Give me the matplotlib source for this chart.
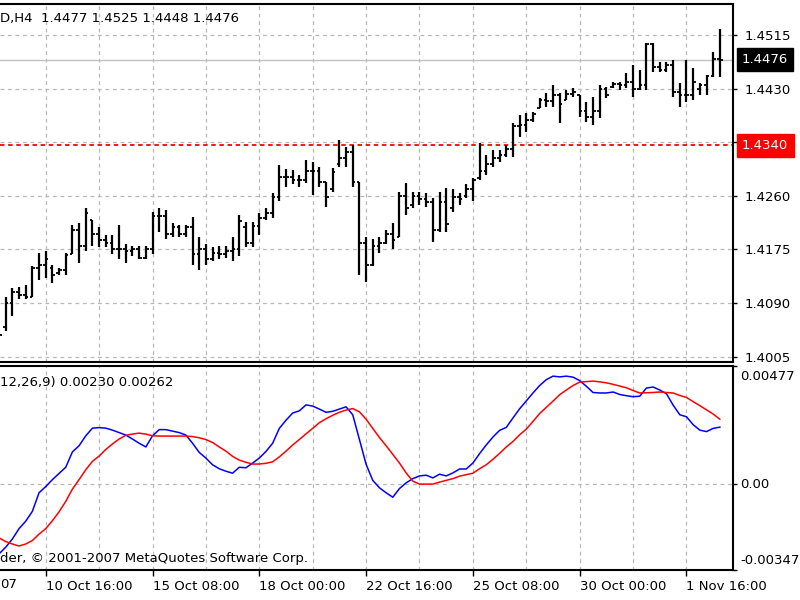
import matplotlib
matplotlib.use('Agg')
import matplotlib.pyplot as plt
from matplotlib import transforms
from matplotlib.ticker import FixedLocator

# H4 bars, index 0 = 10 Oct 16:00
bar_idx = list(range(-7, 102))

opens = [1.4050, 1.4052, 1.4090, 1.4108, 1.4102, 1.4100, 1.4145, 1.4150, 1.4145, 1.4138,
         1.4142, 1.4168, 1.4205, 1.4180, 1.4222, 1.4200, 1.4190, 1.4185, 1.4176, 1.4175,
         1.4172, 1.4176, 1.4162, 1.4176, 1.4228, 1.4228, 1.4200, 1.4210, 1.4200, 1.4210,
         1.4168, 1.4175, 1.4160, 1.4170, 1.4168, 1.4172, 1.4175, 1.4210, 1.4185, 1.4212,
         1.4225, 1.4232, 1.4258, 1.4290, 1.4290, 1.4285, 1.4285, 1.4300, 1.4300, 1.4282,
         1.4270, 1.4310, 1.4320, 1.4330, 1.4282, 1.4185, 1.4150, 1.4180, 1.4185, 1.4200,
         1.4194, 1.4260, 1.4245, 1.4260, 1.4255, 1.4250, 1.4205, 1.4250, 1.4240, 1.4258,
         1.4260, 1.4270, 1.4288, 1.4300, 1.4310, 1.4320, 1.4325, 1.4335, 1.4370, 1.4372,
         1.4380, 1.4400, 1.4412, 1.4410, 1.4420, 1.4412, 1.4422, 1.4420, 1.4395, 1.4385,
         1.4395, 1.4430, 1.4432, 1.4438, 1.4435, 1.4440, 1.4430, 1.4435, 1.4500, 1.4465,
         1.4460, 1.4468, 1.4425, 1.4420, 1.4420, 1.4430, 1.4435, 1.4450, 1.4477]
highs = [1.4056, 1.4100, 1.4114, 1.4116, 1.4119, 1.4148, 1.4170, 1.4172, 1.4151, 1.4146,
         1.4170, 1.4214, 1.4217, 1.4240, 1.4222, 1.4211, 1.4198, 1.4198, 1.4214, 1.4183,
         1.4181, 1.4180, 1.4181, 1.4235, 1.4241, 1.4238, 1.4217, 1.4214, 1.4214, 1.4227,
         1.4195, 1.4183, 1.4178, 1.4180, 1.4180, 1.4194, 1.4230, 1.4219, 1.4219, 1.4233,
         1.4241, 1.4265, 1.4309, 1.4303, 1.4301, 1.4293, 1.4317, 1.4314, 1.4306, 1.4282,
         1.4304, 1.4349, 1.4338, 1.4341, 1.4282, 1.4194, 1.4191, 1.4194, 1.4206, 1.4217,
         1.4266, 1.4281, 1.4266, 1.4266, 1.4265, 1.4257, 1.4266, 1.4273, 1.4270, 1.4265,
         1.4278, 1.4289, 1.4344, 1.4325, 1.4333, 1.4333, 1.4341, 1.4376, 1.4388, 1.4392,
         1.4393, 1.4415, 1.4423, 1.4436, 1.4423, 1.4428, 1.4431, 1.4420, 1.4409, 1.4417,
         1.4436, 1.4433, 1.4441, 1.4441, 1.4455, 1.4468, 1.4460, 1.4502, 1.4502, 1.4472,
         1.4472, 1.4475, 1.4439, 1.4475, 1.4463, 1.4439, 1.4452, 1.4488, 1.4525]
lows = [1.4024, 1.4045, 1.4069, 1.4096, 1.4096, 1.4099, 1.4127, 1.4130, 1.4122, 1.4135,
        1.4135, 1.4167, 1.4154, 1.4172, 1.4180, 1.4178, 1.4178, 1.4167, 1.4159, 1.4154,
        1.4165, 1.4159, 1.4159, 1.4167, 1.4203, 1.4191, 1.4194, 1.4194, 1.4194, 1.4151,
        1.4143, 1.4151, 1.4156, 1.4159, 1.4162, 1.4156, 1.4164, 1.4178, 1.4178, 1.4198,
        1.4222, 1.4225, 1.4251, 1.4274, 1.4278, 1.4274, 1.4281, 1.4262, 1.4274, 1.4243,
        1.4266, 1.4306, 1.4306, 1.4274, 1.4135, 1.4124, 1.4148, 1.4170, 1.4183, 1.4175,
        1.4194, 1.4230, 1.4241, 1.4246, 1.4243, 1.4186, 1.4203, 1.4202, 1.4235, 1.4246,
        1.4257, 1.4251, 1.4285, 1.4293, 1.4306, 1.4314, 1.4322, 1.4322, 1.4354, 1.4361,
        1.4377, 1.4399, 1.4401, 1.4401, 1.4376, 1.4412, 1.4417, 1.4385, 1.4377, 1.4372,
        1.4384, 1.4415, 1.4431, 1.4428, 1.4431, 1.4417, 1.4428, 1.4428, 1.4456, 1.4456,
        1.4456, 1.4417, 1.4401, 1.4409, 1.4412, 1.4420, 1.4420, 1.4449, 1.4448]
closes = [1.4040, 1.4090, 1.4108, 1.4102, 1.4100, 1.4145, 1.4150, 1.4160, 1.4135, 1.4142,
          1.4166, 1.4205, 1.4180, 1.4232, 1.4200, 1.4190, 1.4185, 1.4176, 1.4175, 1.4172,
          1.4176, 1.4162, 1.4176, 1.4228, 1.4228, 1.4200, 1.4210, 1.4200, 1.4210, 1.4168,
          1.4175, 1.4160, 1.4170, 1.4168, 1.4172, 1.4175, 1.4220, 1.4185, 1.4212, 1.4225,
          1.4232, 1.4258, 1.4290, 1.4290, 1.4285, 1.4285, 1.4300, 1.4300, 1.4282, 1.4258,
          1.4298, 1.4320, 1.4330, 1.4282, 1.4185, 1.4150, 1.4180, 1.4185, 1.4200, 1.4190,
          1.4260, 1.4240, 1.4260, 1.4255, 1.4250, 1.4205, 1.4250, 1.4215, 1.4258, 1.4255,
          1.4270, 1.4285, 1.4300, 1.4310, 1.4320, 1.4325, 1.4335, 1.4370, 1.4372, 1.4380,
          1.4390, 1.4412, 1.4410, 1.4420, 1.4405, 1.4422, 1.4425, 1.4395, 1.4385, 1.4395,
          1.4430, 1.4420, 1.4438, 1.4435, 1.4440, 1.4430, 1.4435, 1.4500, 1.4465, 1.4460,
          1.4468, 1.4425, 1.4420, 1.4420, 1.4440, 1.4435, 1.4450, 1.4477, 1.4476]

macd = [-0.00282, -0.00255, -0.00222, -0.00180, -0.00150, -0.00110, -0.00035, -0.00010, 0.00018, 0.00043,
        0.00068, 0.00130, 0.00155, 0.00195, 0.00226, 0.00228, 0.00226, 0.00218, 0.00208, 0.00198,
        0.00182, 0.00165, 0.00150, 0.00195, 0.00220, 0.00220, 0.00214, 0.00208, 0.00198, 0.00165,
        0.00128, 0.00105, 0.00078, 0.00062, 0.00052, 0.00044, 0.00068, 0.00066, 0.00085, 0.00105,
        0.00132, 0.00165, 0.00225, 0.00258, 0.00287, 0.00296, 0.00320, 0.00315, 0.00303, 0.00290,
        0.00294, 0.00303, 0.00312, 0.00280, 0.00180, 0.00080, 0.00015, -0.00015, -0.00035, -0.00053,
        -0.00018, 0.00005, 0.00022, 0.00033, 0.00036, 0.00025, 0.00040, 0.00033, 0.00045, 0.00061,
        0.00061, 0.00085, 0.00123, 0.00158, 0.00190, 0.00217, 0.00229, 0.00267, 0.00304, 0.00336,
        0.00368, 0.00398, 0.00422, 0.00436, 0.00433, 0.00436, 0.00432, 0.00418, 0.00395, 0.00370,
        0.00368, 0.00368, 0.00372, 0.00362, 0.00357, 0.00353, 0.00355, 0.00388, 0.00392, 0.00380,
        0.00365, 0.00319, 0.00280, 0.00272, 0.00240, 0.00218, 0.00212, 0.00225, 0.00230]
signal = [-0.00217, -0.00232, -0.00242, -0.00250, -0.00242, -0.00228, -0.00202, -0.00180, -0.00148, -0.00112,
          -0.00070, -0.00020, 0.00018, 0.00058, 0.00092, 0.00113, 0.00140, 0.00162, 0.00182, 0.00197,
          0.00202, 0.00206, 0.00202, 0.00195, 0.00194, 0.00194, 0.00194, 0.00194, 0.00194, 0.00192,
          0.00187, 0.00180, 0.00168, 0.00150, 0.00133, 0.00112, 0.00097, 0.00088, 0.00081, 0.00081,
          0.00084, 0.00090, 0.00110, 0.00133, 0.00158, 0.00180, 0.00203, 0.00225, 0.00248, 0.00264,
          0.00278, 0.00290, 0.00299, 0.00305, 0.00292, 0.00262, 0.00225, 0.00188, 0.00155, 0.00120,
          0.00085, 0.00045, 0.00012, 0.00000, 0.00000, 0.00000, 0.00008, 0.00015, 0.00022, 0.00032,
          0.00038, 0.00044, 0.00062, 0.00078, 0.00100, 0.00124, 0.00150, 0.00172, 0.00199, 0.00222,
          0.00253, 0.00285, 0.00310, 0.00335, 0.00361, 0.00380, 0.00398, 0.00412, 0.00414, 0.00416,
          0.00413, 0.00409, 0.00403, 0.00396, 0.00389, 0.00378, 0.00368, 0.00369, 0.00370, 0.00372,
          0.00370, 0.00368, 0.00358, 0.00350, 0.00333, 0.00317, 0.00300, 0.00283, 0.00262]

time_ticks = [0, 16, 32, 48, 64, 80, 96]
time_labels = ['10 Oct 16:00', '15 Oct 08:00', '18 Oct 00:00', '22 Oct 16:00',
               '25 Oct 08:00', '30 Oct 00:00', '1 Nov 16:00']
grid_ticks = [8, 24, 40, 56, 72, 88]
price_ticks = [1.4005, 1.4090, 1.4175, 1.4260, 1.4345, 1.4430, 1.4515]
price_labels = ['1.4005', '1.4090', '1.4175', '1.4260', '', '1.4430', '1.4515']
bid = 1.4476
alert_level = 1.4340
macd_top, macd_bottom = 0.00477, -0.00347

FS = 9.5
GRID = dict(color='#b8b8b8', linestyle=(0, (3, 3)), linewidth=0.9)

fig = plt.figure(figsize=(8, 6), dpi=100)
ax = fig.add_axes([0, 0.39667, 0.91625, 0.59667])
ax2 = fig.add_axes([0, 0.05, 0.91625, 0.34])

xmin, xmax = -6.85, 102.97

# price bars
ax.vlines(bar_idx, lows, highs, color='black', linewidth=1.6, zorder=3)
ax.hlines(opens, [i - 0.4 for i in bar_idx], bar_idx, color='black', linewidth=1.3, zorder=3)
ax.hlines(closes, bar_idx, [i + 0.4 for i in bar_idx], color='black', linewidth=1.3, zorder=3)

ax.axhline(bid, color='#c0c0c0', linewidth=1.0, zorder=1)
ax.axhline(alert_level, color='#ff0000', linestyle=(0, (2.5, 2)), linewidth=1.3, zorder=2)

ax.set_xlim(xmin, xmax)
ax.set_ylim(1.39964, 1.45642)
ax.set_xticks(time_ticks)
ax.xaxis.set_minor_locator(FixedLocator(grid_ticks))
ax.tick_params(axis='x', which='both', length=0, labelbottom=False)
ax.grid(True, axis='x', which='both', **GRID)
ax.yaxis.tick_right()
ax.set_yticks(price_ticks, labels=price_labels)
ax.tick_params(axis='y', direction='out', length=3, width=1, color='black',
               labelsize=FS, pad=5)
ax.grid(True, axis='y', **GRID)
ax.set_axisbelow(True)

blend = transforms.blended_transform_factory(ax.transAxes, ax.transData)
ax.text(1 + 9 / 733, bid, '1.4476', transform=blend, color='white', fontsize=FS,
        va='center', ha='left',
        bbox=dict(boxstyle='square,pad=0.35', facecolor='black', edgecolor='black'))
ax.text(1 + 9 / 733, alert_level, '1.4340', transform=blend, color='white', fontsize=FS,
        va='center', ha='left',
        bbox=dict(boxstyle='square,pad=0.4', facecolor='#ff0000', edgecolor='#ff0000'))

ax.text(0.0, 0.96, 'D,H4  1.4477 1.4525 1.4448 1.4476', transform=ax.transAxes,
        fontsize=FS, va='center', ha='left')

# MACD window
ax2.plot(bar_idx, macd, color='#0000ff', linewidth=1.1, zorder=3)
ax2.plot(bar_idx, signal, color='#ff0000', linewidth=1.1, zorder=3)
ax2.set_xlim(xmin, xmax)
ax2.set_ylim(macd_bottom, macd_top)
ax2.set_xticks(time_ticks, labels=time_labels)
ax2.xaxis.set_minor_locator(FixedLocator(grid_ticks))
ax2.tick_params(axis='x', which='major', direction='out', length=4, width=1,
                labelsize=FS, pad=3)
ax2.tick_params(axis='x', which='minor', length=0)
for lab in ax2.get_xticklabels():
    lab.set_horizontalalignment('left')
ax2.grid(True, axis='x', which='both', **GRID)
ax2.axhline(0, **GRID, zorder=1)
ax2.yaxis.tick_right()
ax2.set_yticks([macd_bottom, 0, macd_top], labels=['', '', ''])
ax2.tick_params(axis='y', direction='out', length=3, width=1, color='black')
ax2.set_axisbelow(True)

blend2 = transforms.blended_transform_factory(ax2.transAxes, ax2.transData)
ax2.text(1 + 7 / 733, 0, '0.00', transform=blend2, fontsize=FS, va='center', ha='left')
ax2.text(1 + 7 / 733, macd_top, '0.00477',
         transform=transforms.offset_copy(blend2, fig=fig, y=-10, units='dots'),
         fontsize=FS, va='center', ha='left')
ax2.text(1 + 7 / 733, macd_bottom, '-0.00347',
         transform=transforms.offset_copy(blend2, fig=fig, y=10, units='dots'),
         fontsize=FS, va='center', ha='left')

ax2.text(0.0, 0.92, '12,26,9) 0.00230 0.00262', transform=ax2.transAxes,
         fontsize=FS, va='center', ha='left')
ax2.text(0.0, 0.055, 'der, \u00a9 2001-2007 MetaQuotes Software Corp.', transform=ax2.transAxes,
         fontsize=FS, va='center', ha='left')
fig.text(0.0, 1 - 585 / 600, '07', fontsize=FS, va='center', ha='left')

for a in (ax, ax2):
    a.set_facecolor('white')
    a.spines['left'].set_visible(False)
    for s in ('top', 'right', 'bottom'):
        a.spines[s].set_color('black')
        a.spines[s].set_linewidth(1.5)

plt.savefig('out.png', dpi=100, facecolor='white')
plt.close()
